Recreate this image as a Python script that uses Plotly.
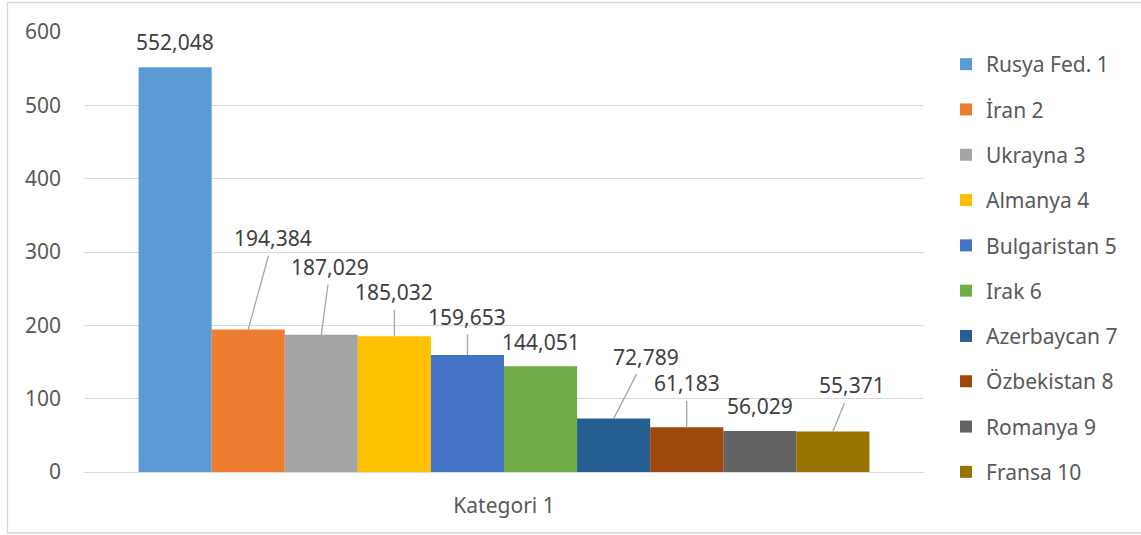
import plotly.graph_objects as go

# Kategori 1 values per country (shown with a Turkish decimal comma)
countries = ["Rusya Fed. 1", "İran 2", "Ukrayna 3", "Almanya 4", "Bulgaristan 5",
             "Irak 6", "Azerbaycan 7", "Özbekistan 8", "Romanya 9", "Fransa 10"]
values = [552.048, 194.384, 187.029, 185.032, 159.653,
          144.051, 72.789, 61.183, 56.029, 55.371]
colors = ["#5B9BD5", "#ED7D31", "#A5A5A5", "#FFC000", "#4472C4",
          "#70AD47", "#255E91", "#9E480E", "#636363", "#997300"]
category = "Kategori 1"
y_ticks = [0, 100, 200, 300, 400, 500, 600]

# pixel offsets of each value label from the top of its bar (leader-line labels)
label_offsets = [(0, -25), (25, -91), (9, -68), (0, -44), (0, -38),
                 (0, -24), (32, -62), (0, -44), (0, -25), (19, -46)]
leader = [False, True, True, True, True, False, True, True, False, True]

FONT = "Noto Sans"
FS = 21
TEXT = "#595959"
LABEL = "#404040"
GRID = "#D9D9D9"
BARGAP = 0.13

W, H = 1141, 535
L, R, T, B = 84, 217, 32, 63
PW, PH = W - L - R, H - T - B

fig = go.Figure()
for name, v, c in zip(countries, values, colors):
    fig.add_trace(go.Bar(
        x=[category], y=[v], name=name, marker=dict(color=c, line=dict(width=0)),
        legendgroup=name, hoverinfo="name+y",
    ))

n = len(values)
group_w = 1 - BARGAP
bar_w = group_w / n
annotations = []
for i, (v, (dx, dy), has_line) in enumerate(zip(values, label_offsets, leader)):
    xc = -group_w / 2 + bar_w * (i + 0.5)
    text = f"{v:.3f}".replace(".", ",")
    if has_line:
        annotations.append(dict(
            x=xc, y=v, xref="x", yref="y", text=text, showarrow=True,
            ax=dx, ay=dy, arrowhead=0, arrowwidth=1.3, arrowcolor="#A6A6A6",
            borderpad=3, font=dict(family=FONT, size=FS, color=LABEL),
        ))
    else:
        annotations.append(dict(
            x=xc, y=v, xref="x", yref="y", text=text, showarrow=False,
            xanchor="center", yanchor="middle", xshift=dx, yshift=-dy,
            font=dict(family=FONT, size=FS, color=LABEL),
        ))

fig.update_layout(
    width=W, height=H,
    margin=dict(l=L, r=R, t=T, b=B, autoexpand=False),
    paper_bgcolor="white", plot_bgcolor="white",
    barmode="group", bargap=BARGAP, bargroupgap=0,
    font=dict(family=FONT, size=FS, color=TEXT),
    showlegend=True,
    legend=dict(
        xref="paper", x=(946 - L) / PW, xanchor="left",
        yref="container", y=1 - 44 / H, yanchor="top",
        maxheight=1,
        traceorder="grouped", tracegroupgap=15,
        font=dict(family=FONT, size=FS, color=TEXT),
        itemwidth=30, bgcolor="rgba(0,0,0,0)",
    ),
    xaxis=dict(
        type="category", range=[-0.5, 0.5], showgrid=False,
        showline=True, linecolor=GRID, linewidth=1.3,
        ticks="", ticklabelstandoff=15,
        tickfont=dict(family=FONT, size=FS, color=TEXT),
    ),
    yaxis=dict(
        range=[0, 600], tickvals=y_ticks, showgrid=True, gridcolor=GRID,
        gridwidth=1.3, zeroline=False, showline=False, ticks="",
        ticklabelstandoff=22,
        tickfont=dict(family=FONT, size=FS, color=TEXT),
    ),
    annotations=annotations,
    # light frame around the whole chart
    shapes=[dict(
        type="rect", xref="paper", yref="paper",
        x0=(7.5 - L) / PW, x1=(W + 5 - L) / PW,
        y0=(T + PH - 533) / PH, y1=(T + PH - 2.5) / PH,
        line=dict(color="#D9D9D9", width=1.3), fillcolor="rgba(0,0,0,0)",
        layer="below",
    )],
)

fig.write_html("out.html")
